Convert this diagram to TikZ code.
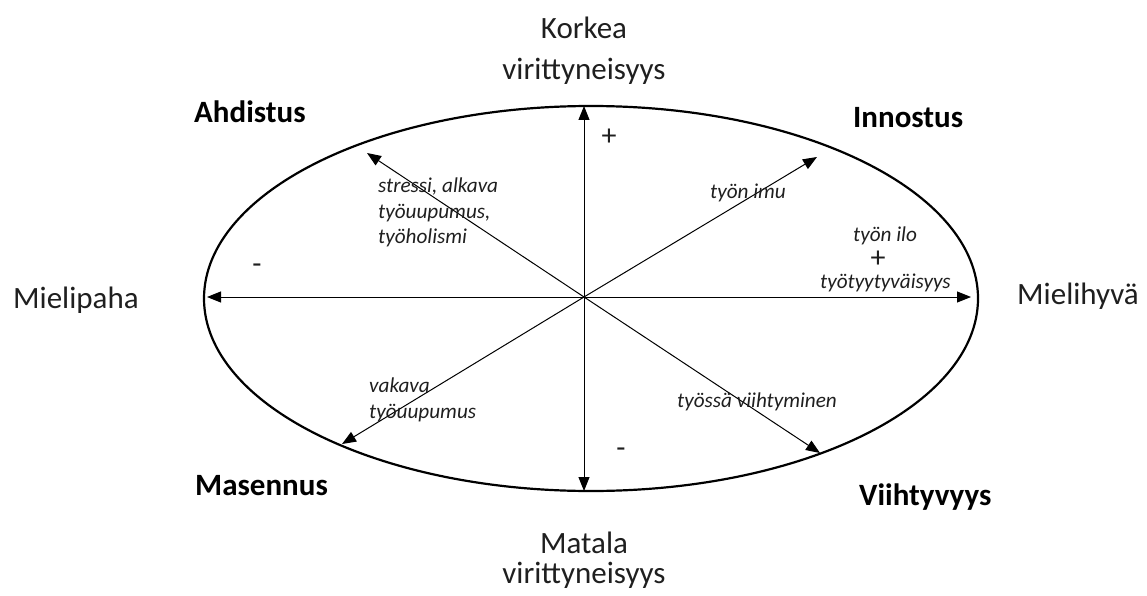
\documentclass[tikz,border=0pt]{standalone}
\usepackage{fontspec}
\setmainfont{Carlito}
\usetikzlibrary{arrows.meta}
\begin{document}
\begin{tikzpicture}[x=1pt,y=-1pt,
  arr/.style={-{Triangle[length=14pt,width=11pt]}, line width=1pt},
  big/.style={font=\fontsize{31}{37}\selectfont, anchor=base, inner sep=0, text=black!88},
  bigw/.style={big, anchor=base west},
  bold/.style={font=\fontsize{31}{37}\selectfont\bfseries, anchor=base west, inner sep=0},
  ital/.style={font=\fontsize{21.2}{26}\selectfont\itshape, anchor=base west, inner sep=0, text=black!88},
  sign/.style={font=\fontsize{30}{34}\selectfont, inner sep=0, text=black!88},
]
\useasboundingbox (0,0) rectangle (1147,596);
\draw[line width=2.2pt] (591,298.5) ellipse [x radius=387, y radius=192.5];

\coordinate (c) at (584,297);
\coordinate (left) at (207,297);
\coordinate (right) at (971,297);
\coordinate (top) at (584,106);
\coordinate (bot) at (584,491);
\coordinate (tr) at (817,157);
\coordinate (tl) at (367,153);
\coordinate (bl) at (342,444);
\coordinate (br) at (820,453);

\foreach \t in {left,right,top,bot,tr,tl,bl,br}
  \draw[arr] (c) -- (\t);

\node[big] (k1) at (584,39) {Korkea};
\node[big] (k2) at (584,80) {virittyneisyys};
\node[big] (m1) at (584,553) {Matala};
\node[big] (m2) at (584,583) {virittyneisyys};
\node[bigw] (mp) at (13,308) {Mielipaha};
\node[bigw] (mh) at (1017,304) {Mielihyvä};

\node[bold] (ah) at (194,123) {Ahdistus};
\node[bold] (in) at (853,128) {Innostus};
\node[bold] (ma) at (195,495) {Masennus};
\node[bold] (vi) at (859,505) {Viihtyvyys};

\node[ital] (s1) at (378,192) {stressi, alkava};
\node[ital] (s2) at (378,218) {työuupumus,};
\node[ital] (s3) at (378,243) {työholismi};
\node[ital] (ti) at (710,198) {työn imu};
\node[ital] (il) at (853,241) {työn ilo};
\node[sign] (pl) at (878,259) {+};
\node[ital] (tt) at (820,288) {työtyytyväisyys};
\node[ital] (v1) at (369,392) {vakava};
\node[ital] (v2) at (369,418) {työuupumus};
\node[ital] (tv) at (677,407) {työssä viihtyminen};

\node[sign] (pt) at (609,137) {+};
\node[sign] (mb) at (621,453) {-};
\node[sign] (ml) at (257,269) {-};
\end{tikzpicture}
\end{document}
